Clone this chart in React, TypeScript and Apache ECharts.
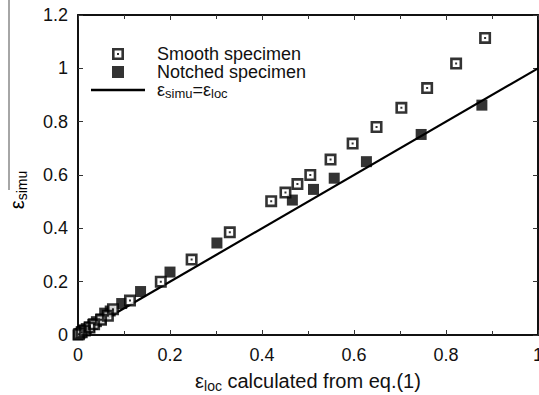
import React, { useEffect, useRef } from "react";
import * as echarts from "echarts";

const smoothX = [0.002, 0.008, 0.015, 0.025, 0.035, 0.05, 0.065, 0.076, 0.113, 0.18, 0.247, 0.33, 0.42, 0.451, 0.477, 0.505, 0.549, 0.597, 0.649, 0.703, 0.759, 0.822, 0.885];
const smoothY = [0.003, 0.01, 0.017, 0.028, 0.04, 0.057, 0.072, 0.097, 0.129, 0.2, 0.283, 0.385, 0.502, 0.534, 0.566, 0.6, 0.658, 0.718, 0.78, 0.852, 0.926, 1.018, 1.114];
const notchedX = [0, 0.004, 0.008, 0.012, 0.018, 0.025, 0.032, 0.04, 0.05, 0.058, 0.07, 0.095, 0.136, 0.2, 0.302, 0.466, 0.512, 0.557, 0.627, 0.746, 0.878];
const notchedY = [0, 0.006, 0.012, 0.018, 0.024, 0.03, 0.04, 0.05, 0.06, 0.082, 0.09, 0.118, 0.163, 0.236, 0.345, 0.506, 0.546, 0.588, 0.65, 0.752, 0.862];
const lineX = [0, 1];
const lineY = [0, 1];
const xTicks = [0, 0.2, 0.4, 0.6, 0.8, 1];
const yTicks = [0, 0.2, 0.4, 0.6, 0.8, 1, 1.2];

const FONT = "'Liberation Sans', Arial, Helvetica, sans-serif";
const SMOOTH_ICON = "path://M0,0H12V12H0Z M2.6,2.6V9.4H9.4V2.6Z M5,5H7V7H5Z";
const FILLED_ICON = "path://M0,0H12V12H0Z";

const fmt = (v: number) => String(Math.round(v * 10) / 10);

export default function App() {
  const ref = useRef<HTMLDivElement>(null);
  useEffect(() => {
    if (!ref.current) return;
    const chart = echarts.init(ref.current, undefined, { renderer: "svg" });
    const pair = (xs: number[], ys: number[]) => xs.map((x, i) => [x, ys[i]]);
    const axisCommon = {
      type: "value" as const,
      axisLine: { show: true, onZero: false, lineStyle: { color: "#111", width: 2 } },
      axisTick: { show: true, inside: true, length: 5, lineStyle: { color: "#333", width: 1 } },
      splitLine: { show: false },
    };
    const nameRich = {
      a: { fontSize: 20, fontFamily: FONT, color: "#111", lineHeight: 22 },
      b: { fontSize: 14, fontFamily: FONT, color: "#111", padding: [10, 0, 0, 0], lineHeight: 22 },
    };
    const legRich = {
      a: { fontSize: 18, fontFamily: FONT, color: "#111", lineHeight: 16 },
      b: { fontSize: 13, fontFamily: FONT, color: "#111", padding: [7, 0, 0, 0], lineHeight: 14 },
    };
    const legText = { fontSize: 18, fontFamily: FONT, color: "#111", lineHeight: 14, padding: [0, 0, 0, 28] };
    chart.setOption({
      animation: false,
      grid: { left: 78, right: 1, top: 15, bottom: 60, containLabel: false, outerBoundsMode: "none" },
      xAxis: [
        {
          ...axisCommon,
          min: 0,
          max: 1,
          interval: 0.2,
          position: "bottom",
          minorTick: { show: true, splitNumber: 2, length: 4, lineStyle: { color: "#333" } },
          axisLabel: {
            fontSize: 18,
            fontFamily: FONT,
            color: "#111",
            margin: 11,
            formatter: (v: number) => (xTicks.some((t) => Math.abs(t - v) < 1e-6) ? fmt(v) : ""),
          },
          name: "{a|ε}{b|loc}{a| calculated from eq.(1)}",
          nameLocation: "middle",
          nameGap: 33,
          nameTextStyle: { rich: nameRich },
        },
        {
          ...axisCommon,
          min: 0,
          max: 1,
          interval: 0.2,
          position: "top",
          minorTick: { show: true, splitNumber: 2, length: 4, lineStyle: { color: "#333" } },
          axisLabel: { show: false },
        },
      ],
      yAxis: [
        {
          ...axisCommon,
          min: 0,
          max: 1.2,
          interval: 0.2,
          position: "left",
          axisLabel: {
            fontSize: 18,
            fontFamily: FONT,
            color: "#111",
            margin: 10,
            formatter: (v: number) => (yTicks.some((t) => Math.abs(t - v) < 1e-6) ? fmt(v) : ""),
          },
        },
        {
          ...axisCommon,
          min: 0,
          max: 1.2,
          interval: 0.2,
          position: "right",
          axisLabel: { show: false },
        },
      ],
      legend: [
        {
          data: [{ name: "Smooth specimen", icon: SMOOTH_ICON }],
          left: 112,
          top: 45,
          padding: 0,
          itemWidth: 12,
          itemHeight: 12,
          textStyle: legText,
        },
        {
          data: [{ name: "Notched specimen", icon: FILLED_ICON }],
          left: 112,
          top: 63,
          padding: 0,
          itemWidth: 12,
          itemHeight: 12,
          textStyle: legText,
        },
        {
          data: [{ name: "line", icon: "rect" }],
          left: 91,
          top: 80,
          padding: 0,
          itemWidth: 54,
          itemHeight: 2.4,
          formatter: () => "{a|ε}{b|simu}{a|=ε}{b|loc}",
          textStyle: { padding: [0, 0, 0, 7], rich: legRich },
        },
      ],
      graphic: [
        {
          type: "line",
          shape: { x1: 9, y1: 0, x2: 9, y2: 190 },
          style: { stroke: "#888", lineWidth: 1.5 },
        },
        {
          type: "text",
          x: 17,
          y: 190,
          rotation: Math.PI / 2,
          style: {
            text: "{a|ε}{b|simu}",
            rich: nameRich,
            align: "center",
            verticalAlign: "middle",
          },
        },
      ],
      series: [
        {
          name: "line",
          type: "line",
          data: pair(lineX, lineY),
          symbol: "none",
          lineStyle: { color: "#000", width: 2.2 },
          itemStyle: { color: "#000" },
          z: 1,
        },
        {
          name: "Notched specimen",
          type: "scatter",
          data: pair(notchedX, notchedY),
          symbol: "rect",
          symbolSize: 11,
          itemStyle: { color: "#000" },
          z: 2,
        },
        {
          name: "smooth-bg",
          type: "scatter",
          data: pair(smoothX, smoothY),
          symbol: "rect",
          symbolSize: 9,
          itemStyle: { color: "#fff" },
          z: 3,
        },
        {
          name: "Smooth specimen",
          type: "scatter",
          data: pair(smoothX, smoothY),
          symbol: SMOOTH_ICON,
          symbolSize: 12,
          symbolKeepAspect: true,
          itemStyle: { color: "#000" },
          z: 4,
        },
      ],
    });
    return () => chart.dispose();
  }, []);
  return <div ref={ref} style={{ position: "fixed", left: 0, top: 0, width: 539, height: 395, background: "#fff" }} />;
}
